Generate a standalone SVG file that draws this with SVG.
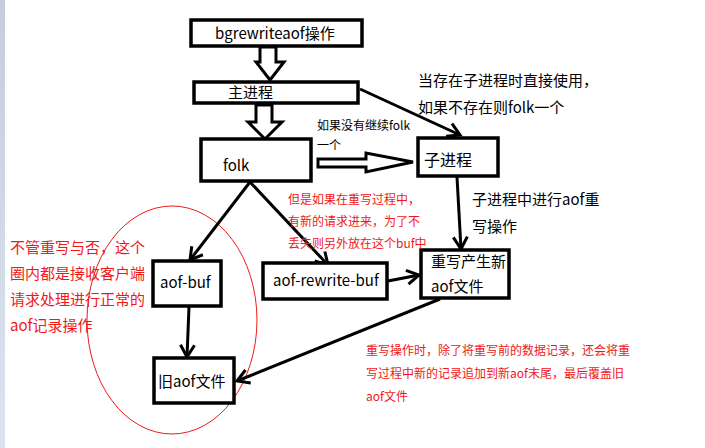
<svg xmlns="http://www.w3.org/2000/svg" width="705" height="448" viewBox="0 0 705 448">
<defs>
<linearGradient id="strip" x1="0" y1="0" x2="0" y2="1"><stop offset="0" stop-color="#c4cedf"/><stop offset="1" stop-color="#dce4ef"/></linearGradient>
<marker id="v" markerUnits="userSpaceOnUse" markerWidth="20" markerHeight="20" viewBox="-14 -10 16 20" refX="0" refY="0" orient="auto">
<path d="M-12,-7 L0,0 L-12,7" fill="none" stroke="#000" stroke-width="3"/>
</marker>
<style>
.box{fill:#fff;stroke:#000;stroke-width:3.5}
.hol{fill:#fff;stroke:#000;stroke-width:3;stroke-linejoin:miter}
.ln{fill:none;stroke:#000;stroke-width:3;marker-end:url(#v)}
text{font-family:"Noto Sans CJK SC","Noto Sans",sans-serif}
.t{font-size:15px;fill:#000}
.r{fill:#f01818}
.s12{font-size:12px}
.s15{font-size:15px}
</style>
</defs>
<rect x="0" y="0" width="5" height="448" fill="url(#strip)"/>
<rect x="5" y="0" width="700" height="448" fill="#fff"/>
<ellipse cx="172" cy="320" rx="85" ry="114" fill="none" stroke="#f01818" stroke-width="1"/>
<g id="connectors">
<polygon class="hol" points="260,47 276,47 276,62 284,62 270,80 256,62 260,62"/>
<polygon class="hol" points="256,105 272,105 272,122 282,122 265,139 248,122 256,122"/>
<polygon class="hol" points="318,159 366,159 366,153 413,162 366,172 366,167 318,167"/>
<line class="ln" x1="360" y1="89" x2="460" y2="135"/>
<line class="ln" x1="457" y1="177" x2="461" y2="249"/>
<line class="ln" x1="250" y1="182" x2="190" y2="260"/>
<line class="ln" x1="250" y1="182" x2="328" y2="265"/>
<line class="ln" x1="388" y1="281" x2="419" y2="275"/>
<line class="ln" x1="189" y1="307" x2="187" y2="357"/>
<line class="ln" x1="440" y1="299" x2="237" y2="381"/>
</g>
<g id="n-bgrewrite"><rect class="box" x="191" y="20" width="171" height="26"/><text class="t" x="215" y="39">bgrewriteaof操作</text></g>
<g id="n-main"><rect class="box" x="194" y="82" width="164" height="21"/><text class="t" x="228" y="98">主进程</text></g>
<g id="n-folk"><rect class="box" x="201" y="139" width="110" height="42"/><text class="t" x="223" y="171">folk</text></g>
<g id="n-child"><rect class="box" x="418" y="138" width="80" height="38"/><text class="t" x="424" y="166" style="font-size:16px">子进程</text></g>
<g id="n-rewrite"><rect class="box" x="421" y="250" width="88" height="48"/><text class="t" x="431" y="267">重写产生新</text><text class="t" x="431" y="292">aof文件</text></g>
<g id="n-rewritebuf"><rect class="box" x="263" y="263" width="124" height="36"/><text class="t" x="273" y="286">aof-rewrite-buf</text></g>
<g id="n-aofbuf"><rect class="box" x="153" y="261" width="68" height="45"/><text class="t" x="160" y="288">aof-buf</text></g>
<g id="n-oldaof"><rect class="box" x="154" y="358" width="80" height="45"/><text class="t" x="158" y="387">旧aof文件</text></g>
<g id="labels">
<text class="s15" x="418" y="86">当存在子进程时直接使用，</text>
<text class="s15" x="418" y="113">如果不存在则folk一个</text>
<text class="s12" x="317" y="130">如果没有继续folk</text>
<text class="s12" x="317" y="150">一个</text>
<text class="s15" x="472" y="205">子进程中进行aof重</text>
<text class="s15" x="472" y="232">写操作</text>
<text class="s15 r" x="10" y="253">不管重写与否，这个</text>
<text class="s15 r" x="10" y="279">圈内都是接收客户端</text>
<text class="s15 r" x="10" y="305">请求处理进行正常的</text>
<text class="s15 r" x="10" y="331">aof记录操作</text>
<text class="s12 r" x="288" y="204">但是如果在重写过程中，</text>
<text class="s12 r" x="288" y="226">有新的请求进来，为了不</text>
<text class="s12 r" x="288" y="248">丢失则另外放在这个buf中</text>
<text class="s12 r" x="366" y="355">重写操作时，除了将重写前的数据记录，还会将重</text>
<text class="s12 r" x="366" y="378">写过程中新的记录追加到新aof末尾，最后覆盖旧</text>
<text class="s12 r" x="366" y="401">aof文件</text>
</g>
</svg>
